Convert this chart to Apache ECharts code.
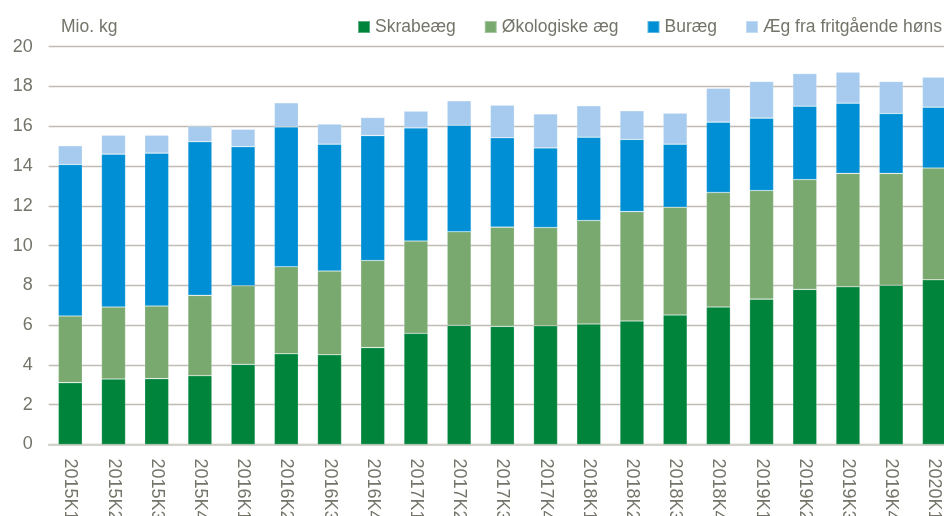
<!DOCTYPE html>
<html>
<head>
<meta charset="utf-8">
<script src="https://cdn.jsdelivr.net/npm/echarts@6/dist/echarts.min.js"></script>
<style>
  html, body { margin: 0; padding: 0; background: #fff; }
  #chart { width: 944px; height: 516px; }
</style>
</head>
<body>
<div id="chart"></div>
<script>
// kvartaler
const quarters = ['2015K1', '2015K2', '2015K3', '2015K4', '2016K1', '2016K2', '2016K3', '2016K4',
  '2017K1', '2017K2', '2017K3', '2017K4', '2018K1', '2018K2', '2018K3', '2018K4',
  '2019K1', '2019K2', '2019K3', '2019K4', '2020K1'];

// Mio. kg pr. kvartal
const skrabeaeg = [3.11, 3.29, 3.31, 3.46, 4.03, 4.56, 4.51, 4.87, 5.59, 5.99, 5.94, 5.97, 6.06, 6.21, 6.51, 6.91, 7.31, 7.80, 7.93, 8.01, 8.28];
const oekologiske = [3.35, 3.62, 3.65, 4.04, 3.95, 4.38, 4.21, 4.38, 4.64, 4.71, 4.99, 4.94, 5.20, 5.50, 5.42, 5.76, 5.46, 5.52, 5.70, 5.62, 5.62];
const buraeg = [7.62, 7.69, 7.69, 7.72, 6.99, 7.03, 6.38, 6.28, 5.69, 5.35, 4.49, 4.00, 4.19, 3.63, 3.17, 3.54, 3.64, 3.69, 3.53, 3.01, 3.06];
const fritgaaende = [0.94, 0.95, 0.90, 0.78, 0.88, 1.21, 1.01, 0.91, 0.84, 1.23, 1.64, 1.71, 1.58, 1.44, 1.56, 1.70, 1.84, 1.64, 1.56, 1.61, 1.51];

const textColor = '#74746a';
const font = 'Liberation Sans, Arial, sans-serif';

let myChart = echarts.init(document.getElementById('chart'));

function serie(name, data, color) {
  return {
    name: name,
    type: 'bar',
    stack: 'total',
    barWidth: 24,
    data: data,
    itemStyle: { color: color, borderColor: 'rgba(255,255,255,0.35)', borderWidth: 0.6 }
  };
}

let option = {
  animation: false,
  textStyle: { fontFamily: font },
  title: {
    text: 'Mio. kg',
    left: 56,
    top: 13,
    textStyle: { fontSize: 17.5, fontWeight: 'normal', color: textColor, fontFamily: font }
  },
  legend: {
    right: -3,
    top: 13,
    itemWidth: 12,
    itemHeight: 12,
    itemGap: 28,
    icon: 'rect',
    textStyle: { fontSize: 17.5, color: textColor, fontFamily: font }
  },
  grid: {
    left: 48.7,
    right: -12,
    top: 46.7,
    bottom: 71.5,
    outerBoundsMode: 'none'
  },
  xAxis: {
    type: 'category',
    data: quarters,
    axisTick: { show: false },
    axisLine: { lineStyle: { color: '#d2d1ca', width: 2 } },
    axisLabel: {
      rotate: -90,
      margin: 14,
      fontSize: 18,
      color: textColor,
      interval: 0,
      fontFamily: font
    }
  },
  yAxis: {
    type: 'value',
    min: 0,
    max: 20,
    interval: 2,
    axisLine: { show: false },
    axisTick: { show: false },
    axisLabel: { fontSize: 18, color: textColor, margin: 16, fontFamily: font },
    splitLine: { lineStyle: { color: '#bfbdb3', width: 1.4 } }
  },
  series: [
    serie('Skrabeæg', skrabeaeg, '#00843c'),
    serie('Økologiske æg', oekologiske, '#79a96f'),
    serie('Buræg', buraeg, '#008fd4'),
    serie('Æg fra fritgående høns', fritgaaende, '#a6cbee')
  ]
};

myChart.setOption(option);
window.onresize = myChart.resize;
</script>
</body>
</html>
